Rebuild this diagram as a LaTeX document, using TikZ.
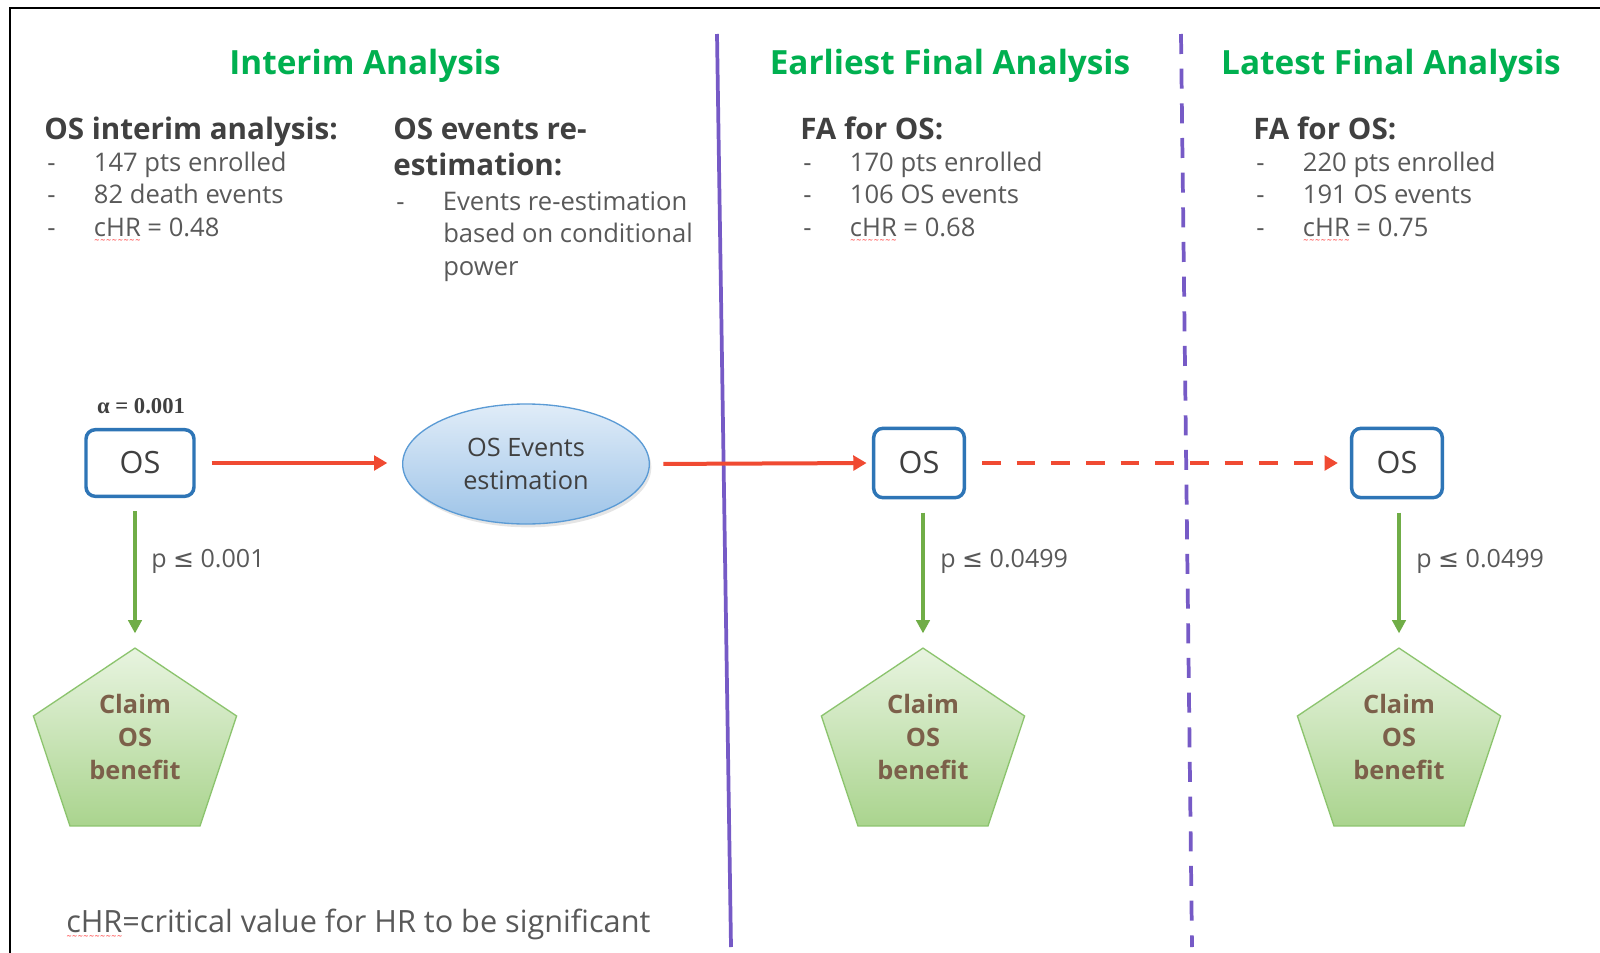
\documentclass[tikz,border=0pt]{standalone}
\usepackage{fontspec}
\setmainfont{Open Sans}
\newfontfamily\dejavu{DejaVu Sans}
\newfontfamily\serifb{Liberation Serif}
\usetikzlibrary{shapes.geometric,arrows.meta,calc,backgrounds,shadows}
\definecolor{titlegreen}{RGB}{0,176,80}
\definecolor{headgray}{RGB}{64,64,64}
\definecolor{txtgray}{RGB}{89,89,89}
\definecolor{boxblue}{RGB}{46,117,182}
\definecolor{arrred}{RGB}{240,74,50}
\definecolor{arrgreen}{RGB}{112,173,71}
\definecolor{divpurple}{RGB}{118,90,198}
\definecolor{ellfillt}{RGB}{224,236,248}
\definecolor{ellfillb}{RGB}{158,196,232}
\definecolor{elldraw}{RGB}{91,155,213}
\definecolor{penttop}{RGB}{232,244,224}
\definecolor{pentbot}{RGB}{170,212,142}
\definecolor{pentdraw}{RGB}{140,196,110}
\definecolor{pentbrown}{RGB}{124,96,74}
\newsavebox\wavebox
\newcommand\redwave[1]{\sbox\wavebox{#1}\rlap{\usebox\wavebox}\raisebox{-4.5pt}{\textcolor{red}{\fontsize{5}{5}\selectfont\hbox to \wd\wavebox{\xleaders\hbox{\dejavu\char"223C}\hfill}}}}
\newcommand\dsh{\makebox[35pt][l]{-}}
\newcommand\pentpath[1]{(#1.north) -- ($(#1.north east)!0.382!(#1.south east)$) -- ($(#1.south)!0.64!(#1.south east)$) -- ($(#1.south)!0.64!(#1.south west)$) -- ($(#1.north west)!0.382!(#1.south west)$) -- cycle}
\begin{document}
\begin{tikzpicture}[x=0.75pt,y=-0.75pt,
  title/.style={font=\fontsize{25}{30}\selectfont\bfseries, text=titlegreen, inner sep=0, anchor=base},
  subhead/.style={font=\fontsize{22.2}{26}\selectfont\bfseries, text=headgray, inner sep=0, anchor=base west},
  item/.style={font=\fontsize{19.2}{24}\selectfont, text=txtgray, inner sep=0, anchor=base west},
  osbox/.style={draw=boxblue, line width=2.6pt, rounded corners=7pt, fill=white, font=\fontsize{23}{26}\selectfont, text=headgray, inner sep=0},
  pentbox/.style={inner sep=0, minimum width=152pt, minimum height=133pt, align=center, font=\fontsize{19}{24.75}\selectfont\bfseries, text=pentbrown},
  pentshape/.style={top color=penttop, bottom color=pentbot, draw=pentdraw, line width=1pt},
  rarrow/.style={draw=arrred, line width=3pt, -{Triangle[length=10pt,width=11pt]}},
  garrow/.style={draw=arrgreen, line width=2.8pt, -{Triangle[length=10pt,width=10pt]}},
  divider/.style={draw=divpurple, line width=2.8pt},
  plabel/.style={font=\fontsize{18.8}{24}\selectfont, text=txtgray, inner sep=0, anchor=west}
]
\useasboundingbox (0,0) rectangle (1600,953);
\begin{scope}[on background layer]
\fill[white] (0,0) rectangle (1600,953);
\end{scope}
\draw[line width=1.6pt] (10,953) -- (10,8) -- (1600,8);

% dividers
\draw[divider] (717,34) -- (731,947);
\draw[divider, dash pattern=on 15pt off 11pt] (1181,34) -- (1192,947);

% titles
\node[title] (t1) at (365,74) {Interim Analysis};
\node[title] (t2) at (950,74) {Earliest Final Analysis};
\node[title] (t3) at (1391,74) {Latest Final Analysis};

% subheadings
\node[subhead] (s1) at (44,139) {OS interim analysis:};
\node[subhead] (s2a) at (393,139) {OS events re-};
\node[subhead] (s2b) at (393,175) {estimation:};
\node[subhead] (s3) at (800,139) {FA for OS:};
\node[subhead] (s4) at (1253,139) {FA for OS:};

% items
\node[item] (i1a) at (47,171) {\dsh 147 pts enrolled};
\node[item] (i1b) at (47,203) {\dsh 82 death events};
\node[item] (i1c) at (47,236) {\dsh\redwave{cHR} = 0.48};
\node[item] (i2a) at (396,210) {\dsh Events re-estimation};
\node[item] (i2b) at (443,242) {based on conditional};
\node[item] (i2c) at (443,275) {power};
\node[item] (i3a) at (803,171) {\dsh 170 pts enrolled};
\node[item] (i3b) at (803,203) {\dsh 106 OS events};
\node[item] (i3c) at (803,236) {\dsh\redwave{cHR} = 0.68};
\node[item] (i4a) at (1256,171) {\dsh 220 pts enrolled};
\node[item] (i4b) at (1256,203) {\dsh 191 OS events};
\node[item] (i4c) at (1256,236) {\dsh\redwave{cHR} = 0.75};

% alpha
\node[font=\serifb\bfseries\fontsize{17}{20}\selectfont, text=headgray, inner sep=0] (alpha) at (141,406) {α = 0.001};

% OS boxes
\node[osbox, minimum width=81pt, minimum height=50pt] (b1) at (140,463) {OS};
\node[osbox, minimum width=68pt, minimum height=52pt] (b2) at (919,463) {OS};
\node[osbox, minimum width=68pt, minimum height=52pt] (b3) at (1397,463) {OS};

% ellipse
\node[ellipse, draw=elldraw, line width=1pt, top color=ellfillt, bottom color=ellfillb,
  minimum width=185pt, minimum height=90pt, inner sep=0, align=center,
  font=\fontsize{19}{24.75}\selectfont, text=headgray,
  drop shadow={opacity=0.2, shadow xshift=1.5pt, shadow yshift=-2.5pt}] (ell) at (526,464) {OS Events\\estimation};

% pentagons
\node[pentbox] (c1) at (135,737) {Claim\\OS\\benefit};
\node[pentbox] (c2) at (923,737) {Claim\\OS\\benefit};
\node[pentbox] (c3) at (1399,737) {Claim\\OS\\benefit};
\begin{scope}[on background layer]
\foreach \p in {c1,c2,c3}{
  \fill[black, opacity=0.18, shift={(1.5pt,-3pt)}] \pentpath{\p};
  \path[pentshape] \pentpath{\p};
}
\end{scope}

% red arrows
\draw[rarrow, shorten <=12pt, shorten >=11pt] (b1.east) -- (b1.east -| ell.west);
\draw[rarrow, shorten <=10pt, shorten >=4pt] (ell.east) -- (b2.west);
\draw[rarrow, dash pattern=on 14pt off 12pt, shorten <=12pt, shorten >=9pt] (b2.east) -- (b3.west);

% green arrows
\draw[garrow, shorten <=10pt, shorten >=11pt] (c1.north |- b1.south) -- (c1.north);
\draw[garrow, shorten <=10pt, shorten >=11pt] (c2.north |- b2.south) -- (c2.north);
\draw[garrow, shorten <=10pt, shorten >=11pt] (c3.north |- b3.south) -- (c3.north);

\node[plabel] (p1) at (151,561) {p {\dejavu ≤} 0.001};
\node[plabel] (p2) at (940,561) {p {\dejavu ≤} 0.0499};
\node[plabel] (p3) at (1416,561) {p {\dejavu ≤} 0.0499};

% footer
\node[font=\fontsize{23}{27}\selectfont, text=txtgray, anchor=base west, inner sep=0] (foot) at (66,932) {\redwave{cHR}=critical value for HR to be significant};
\end{tikzpicture}
\end{document}
